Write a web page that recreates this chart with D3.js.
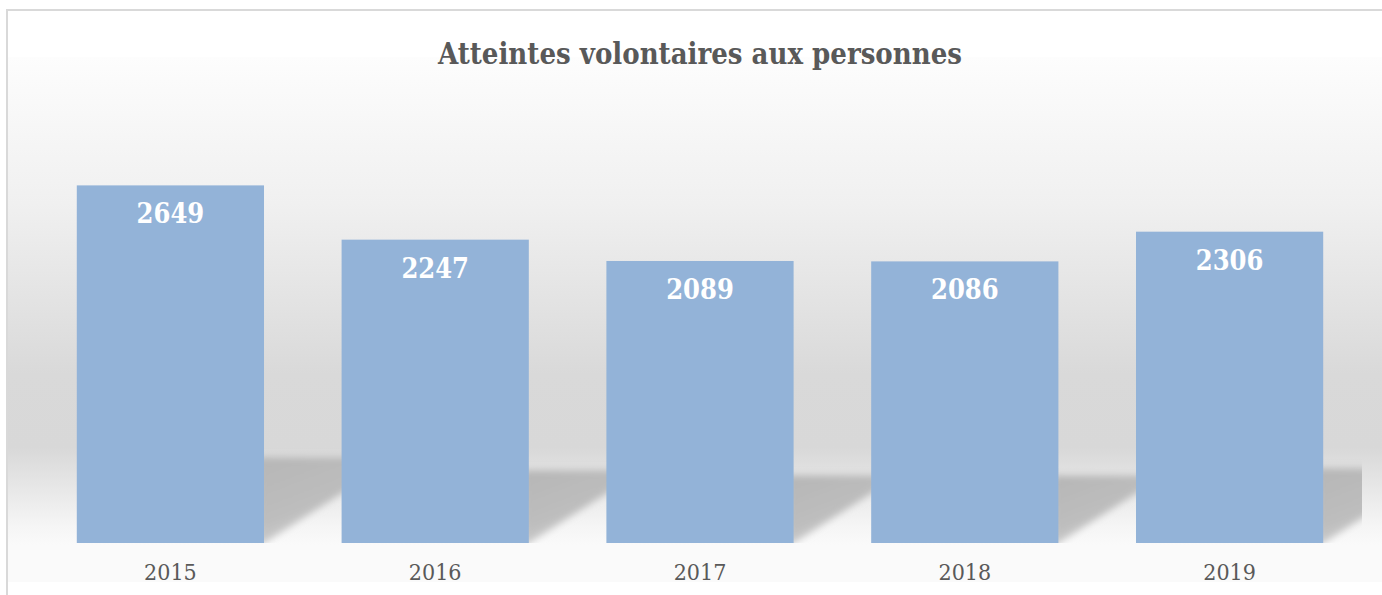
<!DOCTYPE html>
<html>
<head>
<meta charset="utf-8">
<script src="https://cdn.jsdelivr.net/npm/d3@7"></script>
<style>
  body { margin: 0; background: #fff; }
  svg { display: block; }
  text { font-family: "DejaVu Serif Condensed", "DejaVu Serif", serif; font-stretch: condensed; }
</style>
</head>
<body>
<svg id="vis-svg"></svg>
<script>
const titleText = "Atteintes volontaires aux personnes";
const years = ["2015", "2016", "2017", "2018", "2019"];
const values = [2649, 2247, 2089, 2086, 2306];
const yMax = 3000;

const W = 1382, H = 595;
const plot = {left: 38, right: 1362, top: 57, bottom: 543};

const svg = d3.select("#vis-svg")
    .attr("width", W)
    .attr("height", H);

const defs = svg.append("defs");

// wall / floor gradient
const bg = defs.append("linearGradient")
    .attr("id", "bg")
    .attr("x1", 0).attr("y1", 0).attr("x2", 0).attr("y2", 1);
[["0%", "#fdfdfd"], ["30%", "#f0f0f0"], ["50%", "#e3e3e3"], ["65%", "#d9d9d9"],
 ["80%", "#d8d8d8"], ["96%", "#f5f5f5"], ["100%", "#fafafa"]].forEach(s => {
    bg.append("stop").attr("offset", s[0]).attr("stop-color", s[1]);
});

// shadow gets lighter toward the diagonal edge
const sh = defs.append("linearGradient")
    .attr("id", "shade")
    .attr("x1", 0).attr("y1", 0).attr("x2", 0.6).attr("y2", 1);
sh.append("stop").attr("offset", "0%").attr("stop-color", "#b6b6b6");
sh.append("stop").attr("offset", "55%").attr("stop-color", "#bdbdbd");
sh.append("stop").attr("offset", "100%").attr("stop-color", "#dcdcdc");

defs.append("filter")
    .attr("id", "blur")
    .attr("x", "-20%").attr("y", "-20%").attr("width", "140%").attr("height", "140%")
  .append("feGaussianBlur")
    .attr("stdDeviation", 3.5);

defs.append("clipPath")
    .attr("id", "plotClip")
  .append("rect")
    .attr("x", plot.left).attr("y", plot.top)
    .attr("width", plot.right - plot.left)
    .attr("height", plot.bottom - plot.top);

// chart frame
svg.append("rect")
    .attr("x", 8).attr("y", plot.top)
    .attr("width", W - 8).attr("height", plot.bottom + 2 - plot.top)
    .attr("fill", "url(#bg)");
svg.append("rect")
    .attr("x", 8).attr("y", plot.bottom + 2)
    .attr("width", W - 8).attr("height", 37)
    .attr("fill", "#fafafa");
svg.append("path")
    .attr("d", "M7," + H + "V10H" + W)
    .attr("fill", "none")
    .attr("stroke", "#d9d9d9")
    .attr("stroke-width", 2);

// scales
const x = d3.scaleBand()
    .domain(years)
    .range([plot.left, plot.right])
    .paddingInner(0.293)
    .paddingOuter(0.1465);

const y = d3.scaleLinear()
    .domain([0, yMax])
    .range([plot.bottom, 138]);

const data = years.map((d, i) => ({year: d, value: values[i]}));

// floor shadows cast to the back right
const slope = 0.64;
svg.append("g")
    .attr("clip-path", "url(#plotClip)")
  .append("g")
    .attr("filter", "url(#blur)")
  .selectAll("path")
    .data(data)
  .enter().append("path")
    .attr("d", d => {
        const x1 = x(d.year) + x.bandwidth();
        const top = y(0) - 0.24 * (y(0) - y(d.value));
        const dx = (y(0) - top) / slope;
        return "M" + (x1 - 6) + "," + (y(0) + 4) +
               "L" + (x1 + dx) + "," + top +
               "L" + (x1 - 6) + "," + top + "Z";
    })
    .attr("fill", "url(#shade)");

// bars
svg.selectAll(".bar")
    .data(data)
  .enter().append("rect")
    .attr("class", "bar")
    .attr("x", d => x(d.year))
    .attr("y", d => y(d.value))
    .attr("width", x.bandwidth())
    .attr("height", d => y(0) - y(d.value))
    .attr("fill", "#93b3d8");

// value labels
svg.selectAll(".val")
    .data(data)
  .enter().append("text")
    .attr("class", "val")
    .attr("x", d => x(d.year) + x.bandwidth() / 2)
    .attr("y", d => y(d.value) + 38)
    .attr("text-anchor", "middle")
    .attr("font-size", 27)
    .attr("font-weight", "bold")
    .attr("fill", "#ffffff")
    .text(d => d.value);

// x axis labels
const xAxis = svg.append("g")
    .attr("transform", "translate(0," + plot.bottom + ")")
    .call(d3.axisBottom(x).tickSize(0));
xAxis.select(".domain").remove();
xAxis.selectAll("text")
    .attr("font-size", 23)
    .attr("fill", "#595959")
    .attr("dy", null)
    .attr("y", 37);

// title
svg.append("text")
    .attr("x", (plot.left + plot.right) / 2)
    .attr("y", 64)
    .attr("text-anchor", "middle")
    .attr("font-size", 29)
    .attr("font-weight", "bold")
    .attr("fill", "#595959")
    .text(titleText);
</script>
</body>
</html>
